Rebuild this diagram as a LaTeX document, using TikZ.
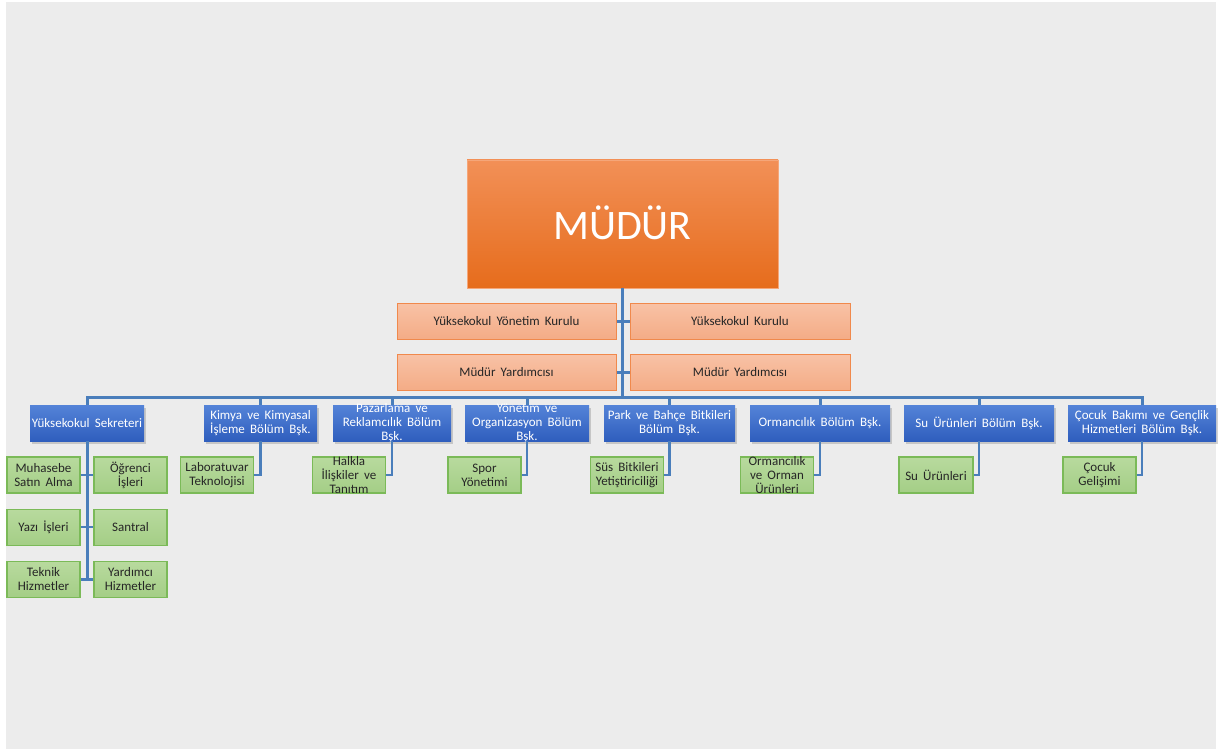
\documentclass[tikz,border=0pt]{standalone}
\usepackage{fontspec}
\setmainfont{Carlito}
\usetikzlibrary{positioning, shadows}

\definecolor{pagegray}{HTML}{ECECEC}
\definecolor{linkblue}{HTML}{4A7EBB}
\definecolor{chieftop}{HTML}{F29057}
\definecolor{chiefbot}{HTML}{E66C1C}
\definecolor{boardtop}{HTML}{F8C2A6}
\definecolor{boardbot}{HTML}{F4AC86}
\definecolor{boardedge}{HTML}{F0894C}
\definecolor{headtop}{HTML}{5483D8}
\definecolor{headbot}{HTML}{2F5EBD}
\definecolor{unittop}{HTML}{B8DA9E}
\definecolor{unitbot}{HTML}{A4CE86}
\definecolor{unitedge}{HTML}{7BBA58}

\newcommand{\boxfont}{\fontsize{13}{14}\selectfont\spaceskip=0.4em plus 0.1em}

\begin{document}
\begin{tikzpicture}[x=1pt, y=-1pt,
    box/.style={rectangle, inner sep=1pt, align=center, minimum height=36pt,
      font=\boxfont},
    chief/.style={box, minimum width=311pt, minimum height=128pt,
      top color=chieftop, bottom color=chiefbot, draw=chieftop!80!white,
      text=white, font=\fontsize{42}{48}\selectfont},
    board/.style={box, minimum width=219pt, draw=boardedge, line width=1pt,
      top color=boardtop, bottom color=boardbot, text=black!85},
    head/.style={box, top color=headtop, bottom color=headbot, text=white,
      drop shadow={shadow xshift=1.5pt, shadow yshift=-2.5pt, opacity=.35}},
    unit/.style={box, minimum width=73pt, draw=unitedge, line width=1.2pt,
      top color=unittop, bottom color=unitbot, text=black!85},
    link/.style={draw=linkblue, line width=3pt},
    sublink/.style={draw=linkblue, line width=2.5pt}
  ]

  \useasboundingbox (0,0) rectangle (1221,749);
  \fill[pagegray] (6,2) rectangle (1216,749);

  % top
  \node[chief] (mudur) at (622.5,224) {\raisebox{2pt}{MÜDÜR}};

  \node[board] (ykurul) at (506.5,321) {Yüksekokul Yönetim Kurulu};
  \node[board, minimum width=220pt] (kurul) at (740,321) {Yüksekokul Kurulu};
  \node[board] (yard1) at (506.5,372) {Müdür Yardımcısı};
  \node[board, minimum width=220pt] (yard2) at (740,372) {Müdür Yardımcısı};

  \coordinate (bus) at (622.5,397);

  % heads
  \node[head, minimum width=114pt] (sek) at (87,423) {Yüksekokul Sekreteri};
  \node[head, minimum width=113pt] (kimya) at (260.5,423) {Kimya ve Kimyasal\\İşleme Bölüm Bşk.};
  \node[head, minimum width=118pt, label={[text=white, align=center, font=\boxfont]center:Pazarlama ve\\Reklamcılık Bölüm\\Bşk.}] (pazar) at (392,423) {};
  \node[head, minimum width=124pt, label={[text=white, align=center, font=\boxfont]center:Yönetim ve\\Organizasyon Bölüm\\Bşk.}] (yonetim) at (527,423) {};
  \node[head, minimum width=131pt] (park) at (669.5,423) {Park ve Bahçe Bitkileri\\Bölüm Bşk.};
  \node[head, minimum width=140pt] (orman) at (820,423) {Ormancılık Bölüm Bşk.};
  \node[head, minimum width=150pt] (su) at (979,423) {Su Ürünleri Bölüm Bşk.};
  \node[head, minimum width=148pt] (cocuk) at (1142,423) {Çocuk Bakımı ve Gençlik\\Hizmetleri Bölüm Bşk.};

  % units under the secretary
  \node[unit] (muhasebe) at (43.5,475) {Muhasebe\\Satın Alma};
  \node[unit] (ogrenci) at (130.5,475) {Öğrenci\\İşleri};
  \node[unit, below=15pt of muhasebe] (yazi) {Yazı İşleri};
  \node[unit, below=15pt of ogrenci] (santral) {Santral};
  \node[unit, below=15pt of yazi] (teknik) {Teknik\\Hizmetler};
  \node[unit, below=15pt of santral] (yardimci) {Yardımcı\\Hizmetler};

  % units under the departments
  \node[unit] (lab) at (217,475) {Laboratuvar\\Teknolojisi};
  \node[unit, label={[text=black!85, align=center, font=\boxfont]center:Halkla\\İlişkiler ve\\Tanıtım}] (halkla) at (349,475) {};
  \node[unit] (spor) at (484.5,475) {Spor\\Yönetimi};
  \node[unit] (sus) at (627,475) {Süs Bitkileri\\Yetiştiriciliği};
  \node[unit, label={[text=black!85, align=center, font=\boxfont]center:Ormancılık\\ve Orman\\Ürünleri}] (ormanu) at (777,475) {};
  \node[unit, minimum width=74pt] (suu) at (936,475) {Su Ürünleri};
  \node[unit] (gelisim) at (1099.5,475) {Çocuk\\Gelişimi};

  % connectors
  \path[link] (mudur.south) -- (bus);
  \path[link] (ykurul.east) -- (kurul.west);
  \path[link] (yard1.east) -- (yard2.west);
  \path[link] (sek.north) |- (bus) -| (cocuk.north);
  \foreach \d in {kimya, pazar, yonetim, park, orman, su}
    \path[link] (\d.north) -- (\d.north |- bus);

  \path[link] (sek.south) -- (sek.south |- yardimci.west);
  \path[sublink] (muhasebe.east) -- (ogrenci.west);
  \path[sublink] (yazi.east) -- (santral.west);
  \path[sublink] (teknik.east) -- (yardimci.west);

  \path[sublink] (kimya.south) |- (lab.east);
  \path[sublink] (pazar.south) |- (halkla.east);
  \path[sublink] (yonetim.south) |- (spor.east);
  \path[sublink] (park.south) |- (sus.east);
  \path[sublink] (orman.south) |- (ormanu.east);
  \path[sublink] (su.south) |- (suu.east);
  \path[sublink] (cocuk.south) |- (gelisim.east);

\end{tikzpicture}
\end{document}
